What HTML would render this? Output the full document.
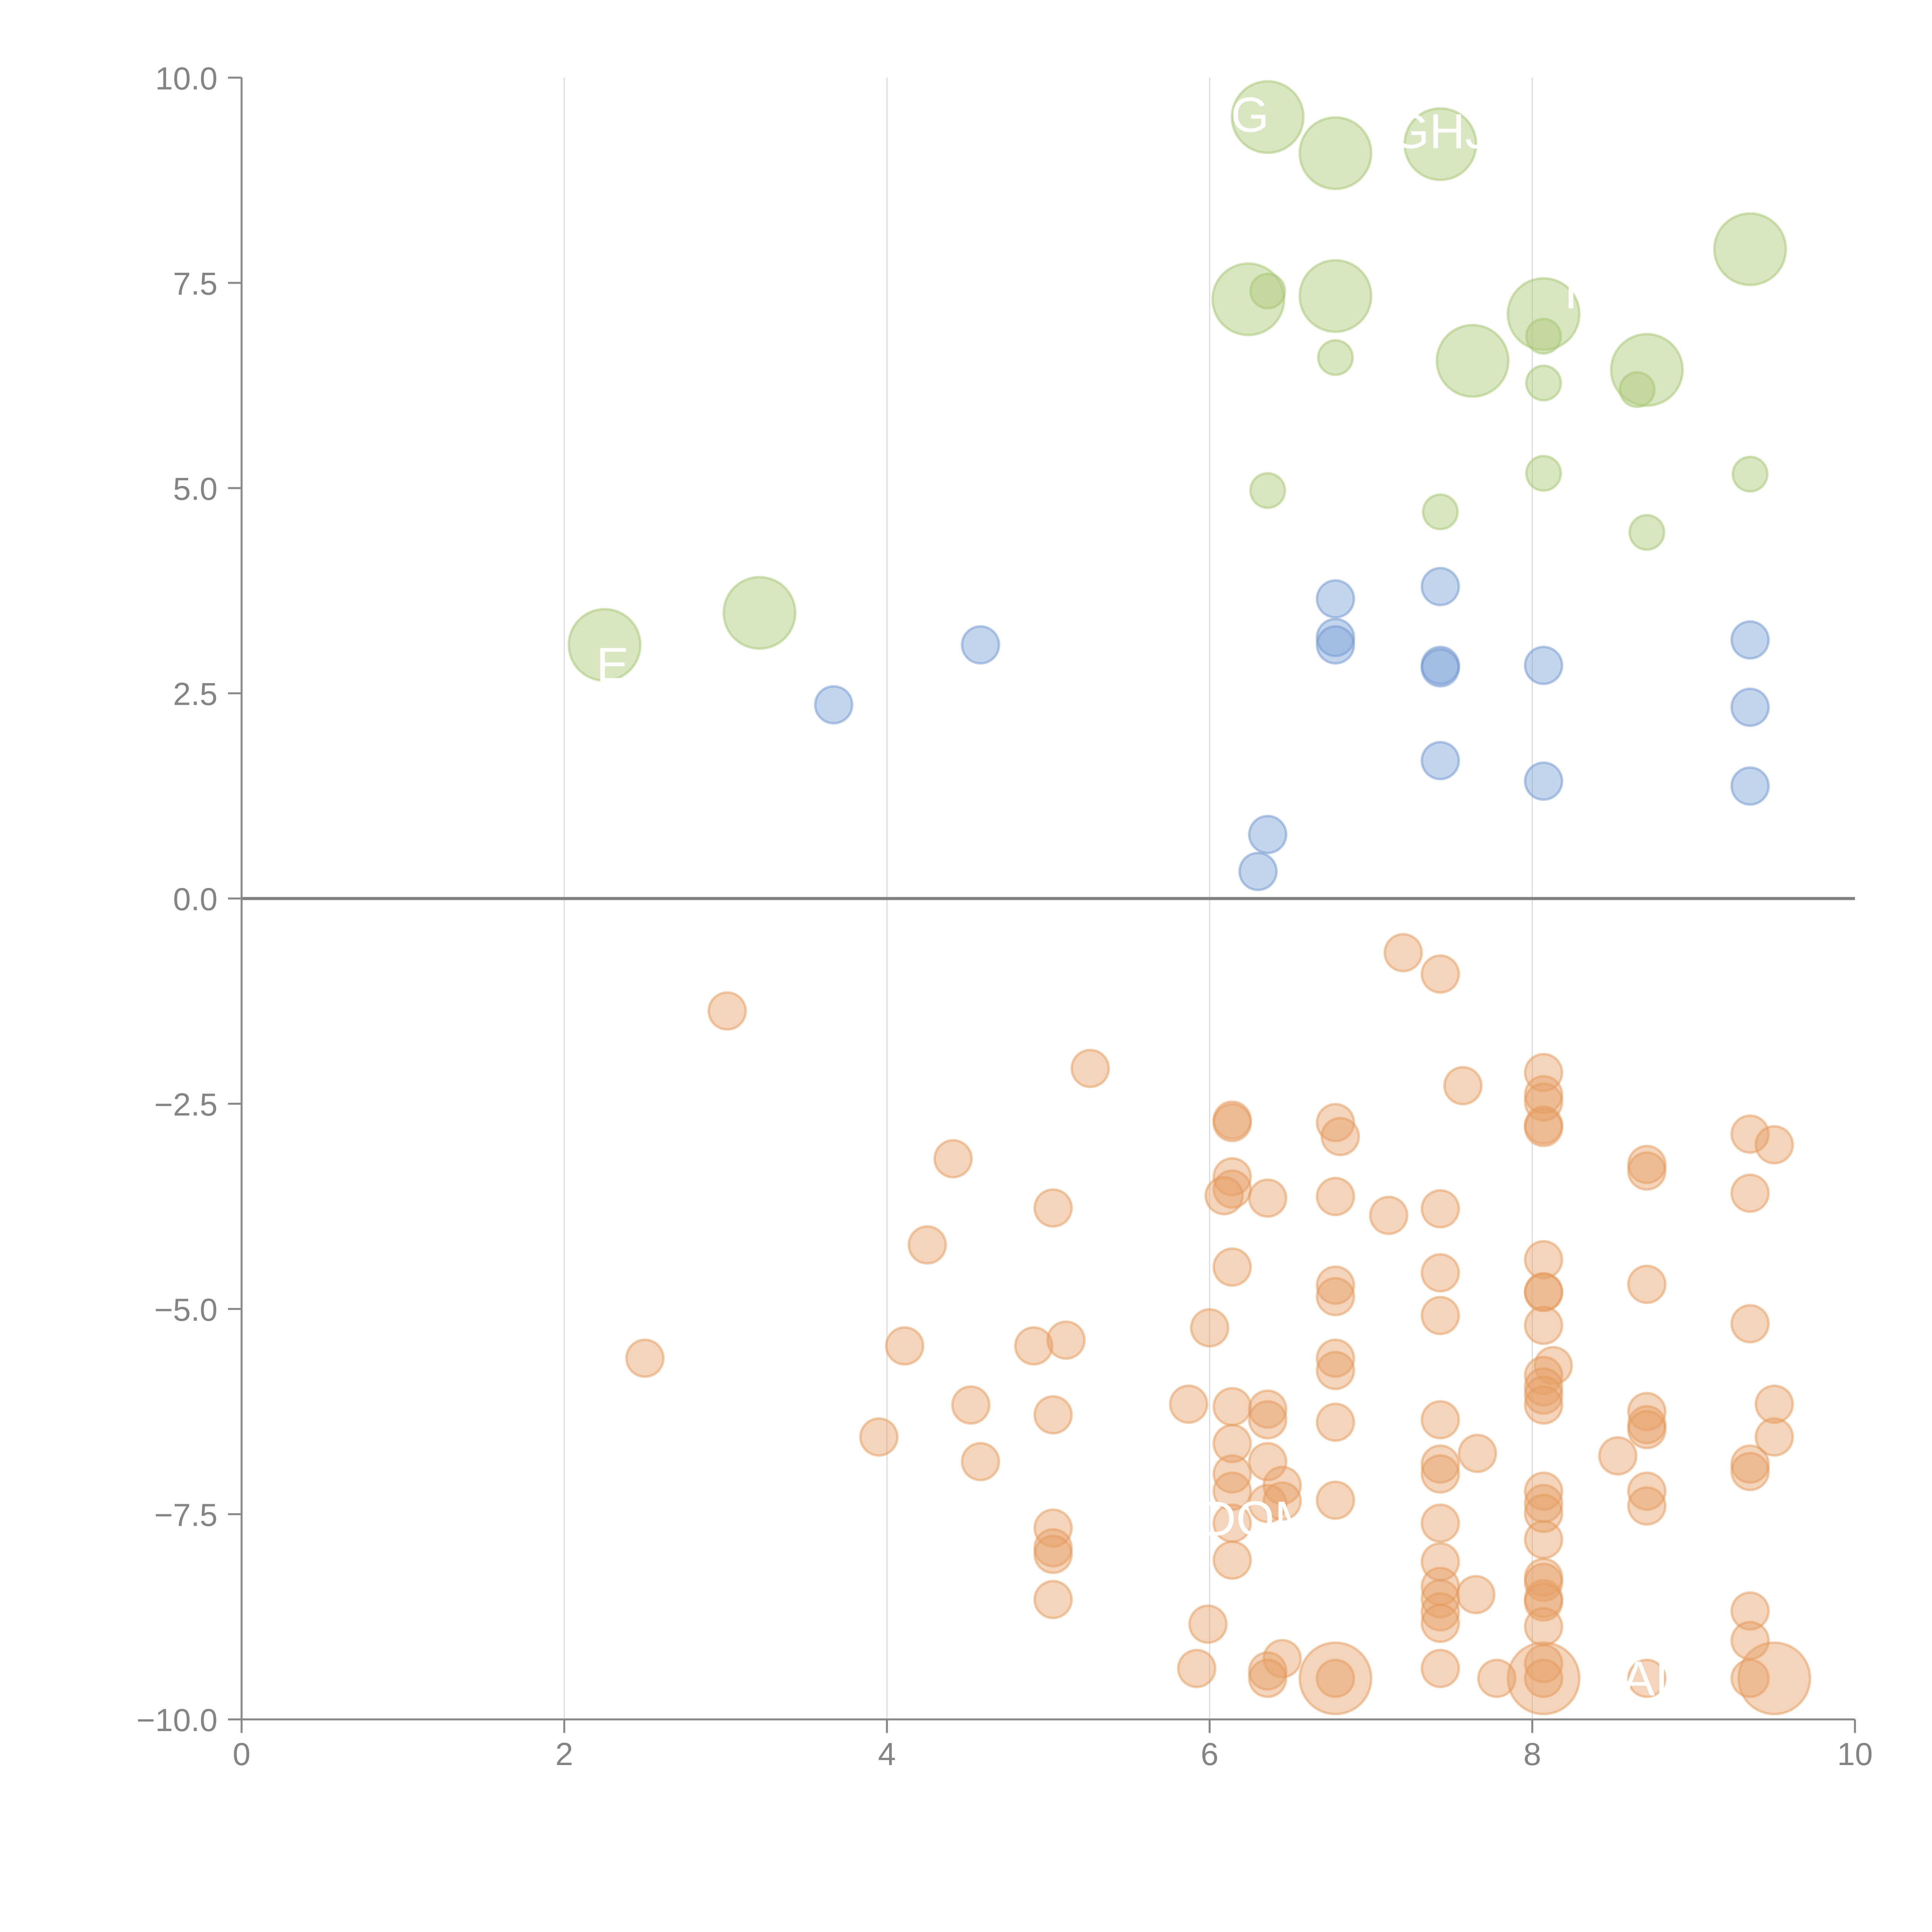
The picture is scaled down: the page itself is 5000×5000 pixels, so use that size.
<!DOCTYPE html>
<html><head><meta charset="utf-8"><style>html,body{margin:0;padding:0;background:#fff}svg{display:block}</style></head>
<body>
<svg id="chart" width="5000" height="5000" viewBox="0 0 1567.5 1567.5" xmlns="http://www.w3.org/2000/svg" font-family="'Liberation Sans', sans-serif">
<g id="grid"></g>
<g id="pts"></g>
<g id="labels"></g>
<g id="axes"></g>
</svg>
<script>
const xTicks=[0,2,4,6,8,10];
const yTicks=[10,7.5,5,2.5,0,-2.5,-5,-7.5,-10];
const yTickLabels=["10.0","7.5","5.0","2.5","0.0","\u22122.5","\u22125.0","\u22127.5","\u221210.0"];
const greenBigX=[6.36,6.78,7.43,9.35,6.24,6.78,8.07,7.63,8.71,2.25,3.21];
const greenBigY=[9.52,9.08,9.19,7.91,7.30,7.34,7.12,6.55,6.44,3.09,3.48];
const greenX=[6.36,6.78,8.07,8.07,8.65,8.07,9.35,6.36,7.43,8.71];
const greenY=[7.40,6.59,6.85,6.28,6.20,5.18,5.17,4.97,4.71,4.46];
const blueX=[3.67,4.58,6.78,6.78,6.78,7.43,7.43,7.43,8.07,9.35,9.35,7.43,8.07,9.35,6.36,6.30];
const blueY=[2.36,3.09,3.65,3.18,3.09,3.80,2.84,2.81,2.84,3.15,2.33,1.68,1.43,1.37,0.78,0.33];
const orangeBigX=[6.78,8.07,9.50];
const orangeBigY=[-9.5,-9.5,-9.5];
const orangeX=[7.20,7.43,3.01,5.26,7.57,8.07,8.07,8.07,8.07,8.07,6.14,6.14,6.78,6.81,4.41,9.35,9.50,8.71,8.71,6.14,6.14,6.09,6.36,6.78,9.35,5.03,7.11,7.43,4.25,6.14,8.07,7.43,6.78,8.71,6.78,8.07,8.07,7.43,8.07,6.00,9.35,2.50,4.11,4.91,5.11,6.78,6.78,8.13,8.07,8.07,8.07,8.07,5.87,6.14,4.52,5.03,6.36,6.36,6.78,7.43,8.71,8.71,8.71,9.50,3.95,6.14,9.50,4.58,6.36,7.43,7.43,7.66,8.53,9.35,9.35,6.14,6.45,6.14,6.36,6.45,6.78,8.07,8.07,8.07,8.71,8.71,5.03,6.14,7.43,5.03,5.03,8.07,6.14,7.43,8.07,8.07,7.43,7.43,7.65,8.07,8.07,7.43,7.43,5.03,5.99,8.07,9.35,9.35,6.45,6.36,6.36,5.92,7.43,8.07,6.78,8.07,7.78,8.71,9.35];
const orangeY=[-0.66,-0.92,-1.37,-2.07,-2.28,-2.12,-2.39,-2.48,-2.76,-2.79,-2.70,-2.73,-2.73,-2.90,-3.17,-2.87,-3.00,-3.24,-3.32,-3.39,-3.54,-3.62,-3.65,-3.63,-3.59,-3.77,-3.86,-3.78,-4.22,-4.49,-4.40,-4.56,-4.71,-4.70,-4.85,-4.79,-4.80,-5.08,-5.20,-5.23,-5.18,-5.60,-5.45,-5.45,-5.38,-5.60,-5.75,-5.69,-5.81,-5.95,-6.05,-6.17,-6.16,-6.19,-6.17,-6.29,-6.22,-6.35,-6.38,-6.35,-6.25,-6.41,-6.47,-6.16,-6.56,-6.64,-6.56,-6.86,-6.86,-6.89,-7.01,-6.76,-6.79,-6.89,-6.98,-7.01,-7.15,-7.22,-7.37,-7.34,-7.33,-7.22,-7.37,-7.49,-7.22,-7.40,-7.67,-7.61,-7.61,-7.91,-7.99,-7.81,-8.06,-8.08,-8.27,-8.33,-8.38,-8.53,-8.48,-8.53,-8.57,-8.69,-8.83,-8.54,-8.84,-8.87,-8.68,-9.04,-9.26,-9.41,-9.50,-9.38,-9.38,-9.32,-9.50,-9.50,-9.50,-9.50,-9.50];
const labelText=["G","GHJ","TC","DOM","AI","E"];
const labelX=[6.25,7.43,8.35,6.30,8.70,2.30];
const labelY=[9.55,9.35,7.40,-7.55,-9.50,2.85];

const NS="http://www.w3.org/2000/svg";
const X0=196,X1=1505,Y0=1395,Y1=63;
function sx(v){return X0+(v-0)/(10-0)*(X1-X0);}
function sy(v){return Y0-(v+10)/20*(Y0-Y1);}
function mk(tag,attrs,parent){const e=document.createElementNS(NS,tag);for(const k in attrs)e.setAttribute(k,attrs[k]);parent.appendChild(e);return e;}
const grid=document.getElementById('grid'),pts=document.getElementById('pts'),axes=document.getElementById('axes'),labels=document.getElementById('labels');
xTicks.forEach(t=>{if(t>0&&t<10){const l=mk('line',{x1:sx(t),x2:sx(t),y1:Y1,y2:Y0,stroke:'#dcdcdc','stroke-width':1},grid);

}});
function drawSet(xs,ys,r,fill,stroke,name){xs.forEach((v,i)=>{const c=mk('circle',{cx:sx(v),cy:sy(ys[i]),r:r,fill:fill,'fill-opacity':0.45,stroke:stroke,'stroke-opacity':0.5,'stroke-width':2},pts);

});}
drawSet(greenBigX,greenBigY,29,'#aac878','#a5c56f','green-bubble-large');
drawSet(greenX,greenY,14,'#aac878','#a5c56f','green-bubble');
drawSet(blueX,blueY,15,'#7a9fd6','#6f95d0','blue-bubble');
drawSet(orangeBigX,orangeBigY,29,'#e6a066','#e39a5c','orange-bubble-large');
drawSet(orangeX,orangeY,15,'#e6a066','#e39a5c','orange-bubble');
labelText.forEach((t,i)=>{const tx=mk('text',{x:sx(labelX[i]),y:sy(labelY[i])+14,'font-size':40,fill:'#ffffff','text-anchor':'middle'},labels);tx.textContent=t;

});
const zl=mk('line',{x1:X0,x2:X1,y1:sy(0),y2:sy(0),stroke:'#808080','stroke-width':2.5},axes);


const ya=mk('line',{x1:X0,x2:X0,y1:Y1,y2:Y0,stroke:'#888','stroke-width':1.6},axes);


const xa=mk('line',{x1:X0,x2:X1,y1:Y0,y2:Y0,stroke:'#888','stroke-width':1.6},axes);


yTicks.forEach((t,i)=>{const tk=mk('line',{x1:X0-11,x2:X0,y1:sy(t),y2:sy(t),stroke:'#888','stroke-width':1.6},axes);


const tl=mk('text',{x:X0-19.5,y:sy(t)+9.5,'font-size':26,fill:'#848484','text-anchor':'end'},axes);tl.textContent=yTickLabels[i];

});
xTicks.forEach(t=>{const tk=mk('line',{x1:sx(t),x2:sx(t),y1:Y0,y2:Y0+11,stroke:'#888','stroke-width':1.6},axes);


const tl=mk('text',{x:sx(t),y:Y0+37,'font-size':26,fill:'#848484','text-anchor':'middle'},axes);tl.textContent=String(t);

});
</script>
</body></html>
